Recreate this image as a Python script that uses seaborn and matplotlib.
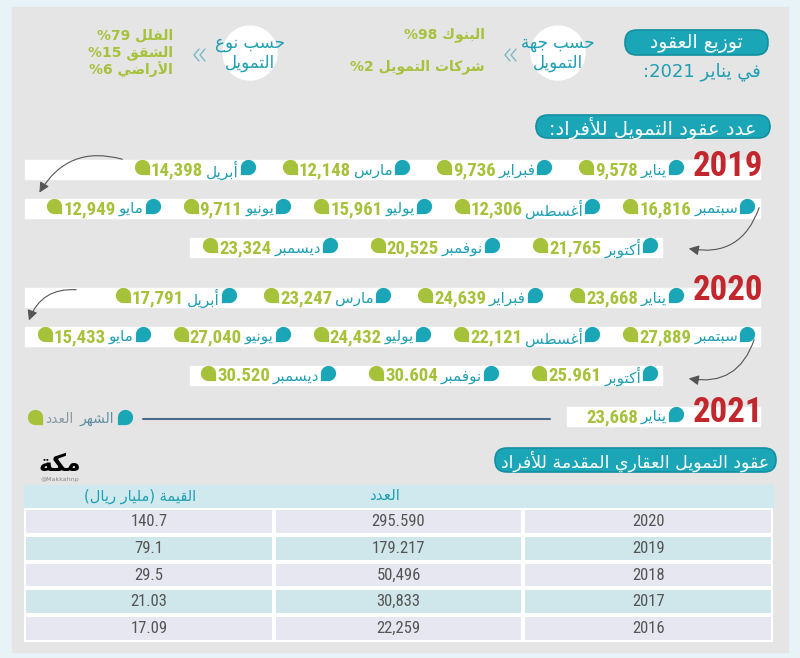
import re
import numpy as np
import pandas as pd
import seaborn as sns
import matplotlib
matplotlib.use("Agg")
import matplotlib.pyplot as plt
from matplotlib.path import Path
from matplotlib.patches import FancyBboxPatch, Rectangle, Circle, FancyArrowPatch
from matplotlib.colors import ListedColormap
from matplotlib import font_manager

months = ["يناير", "فبراير", "مارس", "أبريل", "مايو", "يونيو",
          "يوليو", "أغسطس", "سبتمبر", "أكتوبر", "نوفمبر", "ديسمبر"]
counts_2019 = ["9,578", "9,736", "12,148", "14,398", "12,949", "9,711",
               "15,961", "12,306", "16,816", "21,765", "20,525", "23,324"]
counts_2020 = ["23,668", "24,639", "23,247", "17,791", "15,433", "27,040",
               "24,432", "22,121", "27,889", "25.961", "30.604", "30.520"]
counts_2021 = ["23,668"]
block_years = ["2019", "2020", "2021"]

lender_labels = ["البنوك", "شركات التمويل"]
lender_shares = [98, 2]
type_labels = ["الفلل", "الشقق", "الأراضي"]
type_shares = [79, 15, 6]

table_years = ["2020", "2019", "2018", "2017", "2016"]
table_counts = ["295.590", "179.217", "50,496", "30,833", "22,259"]
table_values = ["140.7", "79.1", "29.5", "21.03", "17.09"]

TEAL = "#1ba6b8"
TEAL_TXT = "#1f9fb2"
GREEN = "#a6c13a"
RED = "#c1272d"
AR_FONT = "DejaVu Sans"

# pick the narrowest installed family for digits
installed = {f.name for f in font_manager.fontManager.ttflist}
NUM_FONT = next((f for f in ["Liberation Sans Narrow", "Roboto Condensed", "Open Sans Condensed",
                             "Roboto", "Lato"] if f in installed), "DejaVu Sans")

# --- tiny arabic shaper (presentation forms + right-to-left order) ---
AR_FORMS = {
    'ء': (0xFE80, 1), 'آ': (0xFE81, 2), 'أ': (0xFE83, 2), 'ؤ': (0xFE85, 2),
    'إ': (0xFE87, 2), 'ئ': (0xFE89, 4), 'ا': (0xFE8D, 2), 'ب': (0xFE8F, 4),
    'ة': (0xFE93, 2), 'ت': (0xFE95, 4), 'ث': (0xFE99, 4), 'ج': (0xFE9D, 4),
    'ح': (0xFEA1, 4), 'خ': (0xFEA5, 4), 'د': (0xFEA9, 2), 'ذ': (0xFEAB, 2),
    'ر': (0xFEAD, 2), 'ز': (0xFEAF, 2), 'س': (0xFEB1, 4), 'ش': (0xFEB5, 4),
    'ص': (0xFEB9, 4), 'ض': (0xFEBD, 4), 'ط': (0xFEC1, 4), 'ظ': (0xFEC5, 4),
    'ع': (0xFEC9, 4), 'غ': (0xFECD, 4), 'ف': (0xFED1, 4), 'ق': (0xFED5, 4),
    'ك': (0xFED9, 4), 'ل': (0xFEDD, 4), 'م': (0xFEE1, 4), 'ن': (0xFEE5, 4),
    'ه': (0xFEE9, 4), 'و': (0xFEED, 2), 'ى': (0xFEEF, 2), 'ي': (0xFEF1, 4),
}
LAM_ALEF = {'آ': 0xFEF5, 'أ': 0xFEF7, 'إ': 0xFEF9, 'ا': 0xFEFB}
MIRROR = str.maketrans('()', ')(')
NUM_RE = re.compile(r'([0-9][0-9.,]*%?)')


def shape(s):
    dual = lambda c: c in AR_FORMS and AR_FORMS[c][1] == 4
    joins = lambda c: c in AR_FORMS and AR_FORMS[c][1] > 1
    out = []
    i = 0
    while i < len(s):
        c = s[i]
        if c not in AR_FORMS:
            out.append(c)
            i += 1
            continue
        jp = i > 0 and dual(s[i - 1])
        if c == 'ل' and i + 1 < len(s) and s[i + 1] in LAM_ALEF:
            out.append(chr(LAM_ALEF[s[i + 1]] + (1 if jp else 0)))
            i += 2
            continue
        base, k = AR_FORMS[c]
        jn = k == 4 and i + 1 < len(s) and joins(s[i + 1])
        if k == 1:
            f = 0
        elif k == 2:
            f = 1 if jp else 0
        else:
            f = [0, 2, 1, 3][jp * 2 + jn]
        out.append(chr(base + f))
        i += 1
    return ''.join(out)


def ar(s):
    parts = [p for p in NUM_RE.split(s) if p]
    out = []
    for p in reversed(parts):
        if NUM_RE.fullmatch(p):
            out.append(p)
        else:
            out.append(shape(p)[::-1].translate(MIRROR))
    return ''.join(out)


def bubble(start, end, corner):
    th = np.linspace(start, end, 40)
    verts = list(zip(np.cos(th), np.sin(th))) + [corner, (np.cos(start), np.sin(start))]
    codes = [Path.MOVETO] + [Path.LINETO] * (len(verts) - 2) + [Path.CLOSEPOLY]
    return Path(verts, codes)

teal_marker = bubble(-np.pi / 2, np.pi, (-1, -1))
green_marker = bubble(0, 1.5 * np.pi, (1, -1))

sns.set_style("white")
fig = plt.figure(figsize=(8, 6.58), dpi=100)
fig.patch.set_facecolor("#e8f3f7")
ax = fig.add_axes([0, 0, 1, 1])
ax.set_xlim(0, 800)
ax.set_ylim(658, 0)
ax.axis("off")
ax.add_patch(Rectangle((12, 7), 776, 645, color="#e5e5e5", zorder=0))


def box(x, y, w, h, text, size):
    ax.add_patch(FancyBboxPatch((x, y), w, h, boxstyle="round,pad=0,rounding_size=12",
                                fc=TEAL, ec="#12909f", lw=1.2, zorder=2))
    ax.text(x + w / 2, y + h / 2 + 1, ar(text), ha="center", va="center",
            color="white", fontsize=size, family=AR_FONT, zorder=3)


def chevrons(x, y):
    for off in (0, 6):
        ax.plot([x + 5 + off, x + off, x + 5 + off], [y - 6, y, y + 6],
                color="#7bb9c5", lw=1, zorder=2)


# header
box(625, 30, 143, 25, "توزيع العقود", 13.5)
ax.text(702, 72, ar("في يناير 2021:"), ha="center", va="center", color=TEAL_TXT,
        fontsize=13, family=AR_FONT)
for cx, title in [(558, "حسب جهة\nالتمويل"), (250, "حسب نوع\nالتمويل")]:
    ax.add_patch(Circle((cx, 53), 27, color="white", zorder=1))
    ax.text(cx, 53, "\n".join(ar(t) for t in title.split("\n")), ha="center",
            va="center", color=TEAL_TXT, fontsize=12, family=AR_FONT,
            linespacing=1.15, zorder=2)
chevrons(505, 55)
chevrons(194, 55)
for lab, v, y in zip(lender_labels, lender_shares, [35, 67]):
    ax.text(485, y, "%" + str(v) + " " + ar(lab), ha="right", va="center",
            color=GREEN, fontsize=10, weight="bold", family=AR_FONT)
for lab, v, y in zip(type_labels, type_shares, [35, 53, 70]):
    ax.text(173, y, "%" + str(v) + " " + ar(lab), ha="right", va="center",
            color=GREEN, fontsize=10, weight="bold", family=AR_FONT)

box(536, 115, 234, 23, "عدد عقود التمويل للأفراد:", 14)

# monthly rows (snake layout)
renderer = fig.canvas.get_renderer()
teal_pts, green_pts = [], []


def place_row(y, items, x_start, gap):
    x = x_start
    for m, v in items:
        teal_pts.append((x, y - 2))
        t = ax.text(x - 9, y + 1, ar(m), ha="right", va="center", color=TEAL_TXT,
                    fontsize=11, family=AR_FONT, zorder=3)
        x0 = t.get_window_extent(renderer).x0
        n = ax.text(x0 - 3, y + 1, v, ha="right", va="center", color=GREEN,
                    fontsize=13.5, weight="bold", family=NUM_FONT, zorder=3)
        x1 = n.get_window_extent(renderer).x0
        green_pts.append((x1 - 9, y - 2))
        x = x1 - 9 - gap


def strip(x0, x1, y):
    ax.add_patch(Rectangle((x0, y - 9.5), x1 - x0, 19, color="white", zorder=1))


def year_label(text, y):
    ax.text(763, y, text, ha="right", va="center", color=RED, fontsize=25,
            weight="bold", family=NUM_FONT, zorder=4)


for counts, y0 in [(counts_2019, 169), (counts_2020, 297)]:
    strip(25, 760, y0)
    strip(25, 760, y0 + 39)
    strip(190, 662, y0 + 78)
    place_row(y0, [(months[i], counts[i]) for i in range(4)], 676, 42)
    place_row(y0 + 39, [(months[i], counts[i]) for i in range(8, 3, -1)], 747, 38)
    place_row(y0 + 78, [(months[i], counts[i]) for i in range(9, 12)], 650, 48)

year_label(block_years[0], 166)
year_label(block_years[1], 291)
strip(567, 760, 416)
place_row(416, [(months[0], counts_2021[0])], 676, 40)
green_pts.pop()
year_label(block_years[2], 412)

arrow_kw = dict(arrowstyle="-|>,head_length=0.5,head_width=0.25", mutation_scale=12,
                color="#555555", lw=0.8, zorder=5)
for (p, q, r) in [((125, 160), (38, 195), 0.4), ((760, 205), (686, 248), -0.45),
                  ((79, 290), (28, 323), 0.4), ((755, 337), (686, 378), -0.45)]:
    ax.add_patch(FancyArrowPatch(p, q, connectionstyle="arc3,rad=%s" % r, **arrow_kw))

# legend
teal_pts.append((125, 417))
green_pts.append((35, 417))
ax.text(114, 419, ar("الشهر"), ha="right", va="center", color="#5f8fa0",
        fontsize=10, family=AR_FONT)
ax.text(73, 419, ar("العدد"), ha="right", va="center", color="#8a9aa3",
        fontsize=10, family=AR_FONT)
ax.plot([143, 550], [419, 419], color="#4c6b8a", lw=1.5)

tdf = pd.DataFrame(teal_pts, columns=["x", "y"])
gdf = pd.DataFrame(green_pts, columns=["x", "y"])
sns.scatterplot(data=tdf, x="x", y="y", marker=teal_marker, s=120, color=TEAL,
                linewidth=0, ax=ax, zorder=4)
sns.scatterplot(data=gdf, x="x", y="y", marker=green_marker, s=120, color=GREEN,
                linewidth=0, ax=ax, zorder=4)
ax.set_xlim(0, 800)
ax.set_ylim(658, 0)
ax.axis("off")

# table section
box(495, 448, 281, 24, "عقود التمويل العقاري المقدمة للأفراد", 12.5)
ax.text(60, 464, ar("مكة"), ha="center", va="center", color="black",
        fontsize=17, weight="bold", family=AR_FONT)
ax.text(60, 479, "@Makkahnp", ha="center", va="center", color="#888888", fontsize=4.5)

ax.add_patch(Rectangle((24, 485), 749, 22, color="#cfe9ee", zorder=1))
ax.text(140, 496, ar("القيمة (مليار ريال)"), ha="center", va="center",
        color=TEAL_TXT, fontsize=10.5, family=AR_FONT)
ax.text(385, 496, ar("العدد"), ha="center", va="center", color=TEAL_TXT,
        fontsize=11, family=AR_FONT)

tax = fig.add_axes([24 / 800, (658 - 642) / 658, 749 / 800, 134 / 658])
parity = np.array([[i % 2] * 3 for i in range(len(table_years))])
labels = np.array(list(zip(table_values, table_counts, table_years)))
sns.heatmap(parity, cmap=ListedColormap(["#e6e7f1", "#cfe6ea"]), vmin=0, vmax=1,
            annot=labels, fmt="", cbar=False, linewidths=1.5, linecolor="white",
            xticklabels=False, yticklabels=False, ax=tax,
            annot_kws=dict(color="#555555", fontsize=12, family=NUM_FONT))

fig.savefig("out.png", dpi=100, facecolor=fig.get_facecolor())
